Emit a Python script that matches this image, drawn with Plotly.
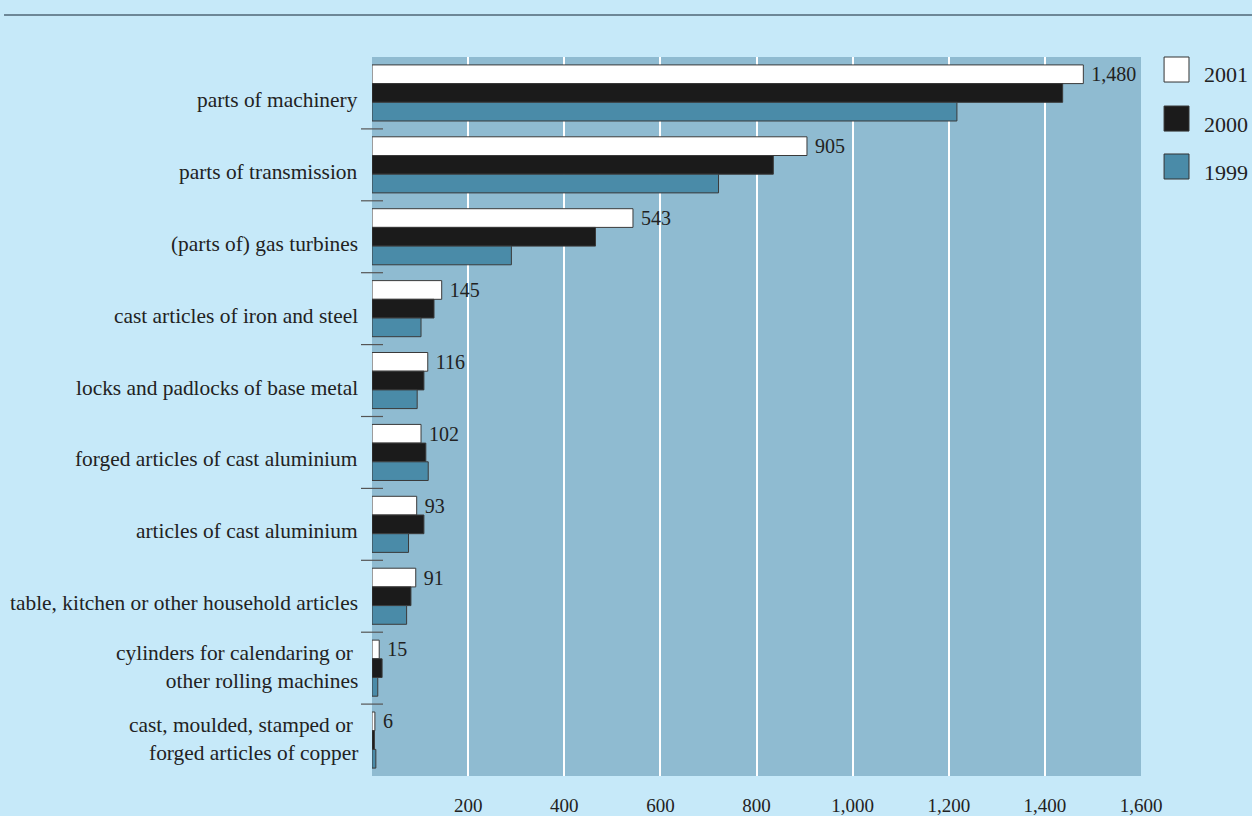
import plotly.graph_objects as go

# Export values by product group (three years)
categories = [
    "parts of machinery",
    "parts of transmission",
    "(parts of) gas turbines",
    "cast articles of iron and steel",
    "locks and padlocks of base metal",
    "forged articles of cast aluminium",
    "articles of cast aluminium",
    "table, kitchen or other household articles",
    "cylinders for calendaring or\u00a0<br>other rolling machines",
    "cast, moulded, stamped or\u00a0<br>forged articles of copper",
]
values_2001 = [1480, 905, 543, 145, 116, 102, 93, 91, 15, 6]
values_2000 = [1437, 835, 465, 129, 108, 112, 108, 81, 21, 5]
values_1999 = [1217, 721, 290, 102, 94, 117, 76, 72, 12, 8]

x_ticks = [200, 400, 600, 800, 1000, 1200, 1400, 1600]

series = [
    ("2001", values_2001, "#ffffff"),
    ("2000", values_2000, "#1b1b1b"),
    ("1999", values_1999, "#4a8ba8"),
]

BG = "#c6e9f9"
PLOT_BG = "#8fbbd1"
TEXT = "#222222"
FONT = "Liberation Serif, Times New Roman, serif"

fig = go.Figure()
for i, (name, vals, color) in enumerate(series):
    bar = dict(
        x=vals,
        y=categories,
        orientation="h",
        name=name,
        marker=dict(color=color, line=dict(color="#3a3a3a", width=1)),
        showlegend=False,
        cliponaxis=False,
    )
    if i == 0:
        bar.update(
            texttemplate="\u00a0%{x:,}",
            textposition="outside",
            constraintext="none",
            textfont=dict(family=FONT, size=20, color=TEXT),
        )
    fig.add_trace(go.Bar(**bar))

shapes = []
annotations = []

# Rule across the top of the page
shapes.append(dict(type="line", xref="paper", yref="paper",
                   x0=-0.4785, x1=1.1443, y0=1.0584, y1=1.0584,
                   line=dict(color="#6d8797", width=2)))

# Short separators between category groups
for k in range(len(categories) - 1):
    shapes.append(dict(type="line", xref="paper", yref="y",
                       x0=-0.0143, x1=0.0143, y0=k + 0.5, y1=k + 0.5,
                       line=dict(color="#555555", width=1.2)))

# Category labels, right-aligned left of the plot
for cat in categories:
    extra_lines = cat.count("<br>")
    annotations.append(dict(xref="paper", yref="y", x=0, y=cat,
                            xanchor="right", yanchor="bottom", align="right",
                            xshift=-12, yshift=-21 - 6 * extra_lines,
                            showarrow=False, text=cat,
                            font=dict(family=FONT, size=21.4, color=TEXT)))

# Legend: square swatches with year labels
swatch_top = [1.0, 0.9318, 0.8651]
label_y = [0.975, 0.9068, 0.8396]
for (name, _, color), top, ly in zip(series, swatch_top, label_y):
    shapes.append(dict(type="rect", xref="paper", yref="paper",
                       x0=1.030, x1=1.0624, y0=top - 0.0348, y1=top,
                       fillcolor=color, line=dict(color="#333333", width=1)))
    annotations.append(dict(xref="paper", yref="paper", x=1.0793, y=ly,
                            xanchor="left", yanchor="middle", showarrow=False,
                            text=name, font=dict(family=FONT, size=22, color=TEXT)))

fig.update_layout(
    width=1252,
    height=816,
    margin=dict(l=372, r=111, t=57, b=40, autoexpand=False),
    paper_bgcolor=BG,
    plot_bgcolor=PLOT_BG,
    barmode="group",
    bargap=0.22,
    bargroupgap=0,
    font=dict(family=FONT, size=21, color=TEXT),
    shapes=shapes,
    annotations=annotations,
    xaxis=dict(
        range=[0, 1600],
        tickvals=x_ticks,
        tickformat=",",
        showgrid=True,
        gridcolor="#ffffff",
        gridwidth=1.5,
        zeroline=False,
        showline=False,
        ticks="",
        ticklabelstandoff=16,
        automargin=False,
        tickfont=dict(family=FONT, size=19, color=TEXT),
        fixedrange=True,
    ),
    yaxis=dict(
        autorange="reversed",
        showgrid=False,
        zeroline=False,
        showline=False,
        ticks="",
        showticklabels=False,
        automargin=False,
        fixedrange=True,
    ),
)

fig.write_html("out.html")
